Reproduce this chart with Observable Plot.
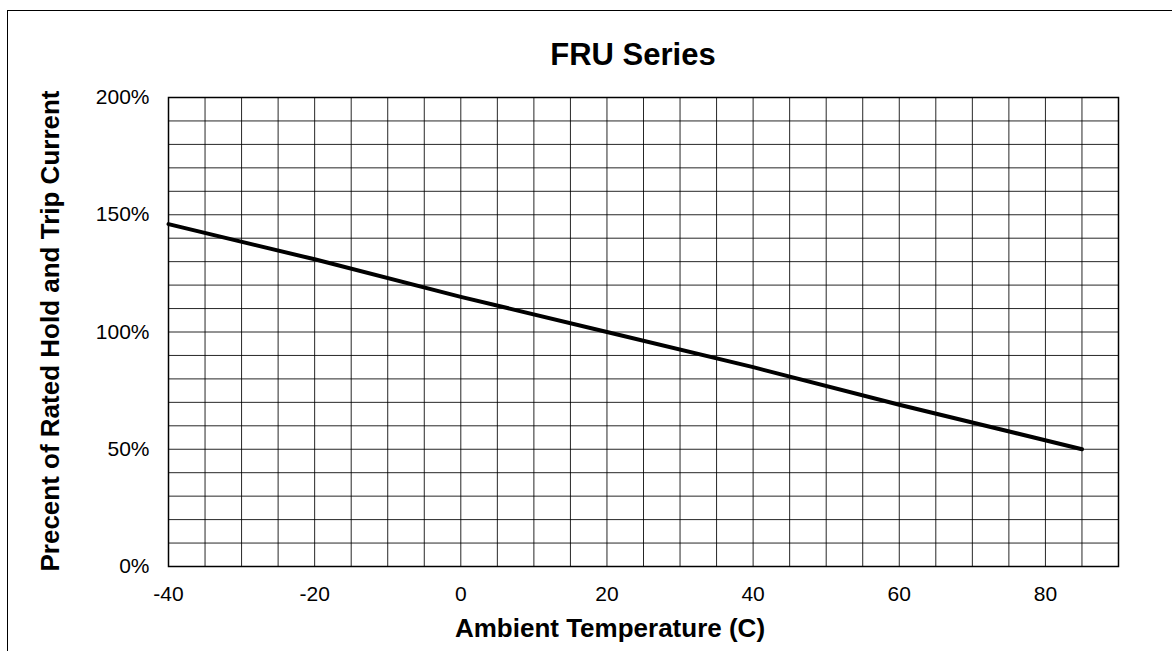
<!DOCTYPE html>
<html>
<head>
<meta charset="utf-8">
<script src="https://cdn.jsdelivr.net/npm/d3@7"></script>
<script src="https://cdn.jsdelivr.net/npm/@observablehq/plot@0.6"></script>
<style>
  html, body { margin: 0; padding: 0; background: #fff; }
  #wrap { position: relative; width: 1172px; height: 651px; overflow: hidden; font-family: "Liberation Sans", Arial, sans-serif; }
  #border { position: absolute; left: 7px; top: 10px; width: 1200px; height: 700px; border-left: 1px solid #000; border-top: 1px solid #000; }
  #chart { position: absolute; left: 0; top: 0; }
  #overlay { position: absolute; left: 0; top: 0; pointer-events: none; }
</style>
</head>
<body>
<div id="wrap">
  <div id="border"></div>
  <div id="chart"></div>
  <svg id="overlay" width="1172" height="651" font-family="Liberation Sans, Arial, sans-serif" font-weight="bold" fill="#000">
    <text x="633" y="65" text-anchor="middle" font-size="31">FRU Series</text>
    <text x="610" y="637" text-anchor="middle" font-size="26">Ambient Temperature (C)</text>
    <text transform="translate(59,331) rotate(-90)" text-anchor="middle" font-size="26">Precent of Rated Hold and Trip Current</text>
  </svg>
</div>
<script>
// Data
const temperatures = [-40, -20, 0, 20, 40, 60, 85];
const percents = [146, 131, 115, 100, 85, 69, 50];

// Axis tick labels
const xTicks = [-40, -20, 0, 20, 40, 60, 80];
const yTicks = [0, 50, 100, 150, 200];

// Grid spacing
const xGrid = d3.range(-40, 91, 5);
const yGrid = d3.range(0, 201, 10);

const data = temperatures.map((t, i) => ({ t, p: percents[i] }));

const chart = Plot.plot({
  width: 1172,
  height: 651,
  marginLeft: 168,
  marginRight: 54,
  marginTop: 97,
  marginBottom: 85,
  style: { fontFamily: "Liberation Sans, Arial, sans-serif", fontSize: "21px", color: "#000", background: "transparent" },
  x: { domain: [-40, 90] },
  y: { domain: [0, 200] },
  marks: [
    Plot.ruleX(xGrid, { stroke: "#000", strokeWidth: 1, strokeOpacity: 0.85 }),
    Plot.ruleY(yGrid, { stroke: "#000", strokeWidth: 1, strokeOpacity: 0.85 }),
    Plot.frame({ stroke: "#000", strokeWidth: 1.5 }),
    Plot.axisX({ ticks: xTicks, tickSize: 0, tickPadding: 20, label: null, fontSize: 21, tickFormat: d => String(d) }),
    Plot.axisY({ ticks: yTicks, tickSize: 0, tickPadding: 19, label: null, fontSize: 21, tickFormat: d => d + "%" }),
    Plot.line(data, { x: "t", y: "p", stroke: "#000", strokeWidth: 4 })
  ]
});
document.getElementById("chart").appendChild(chart);
</script>
</body>
</html>
